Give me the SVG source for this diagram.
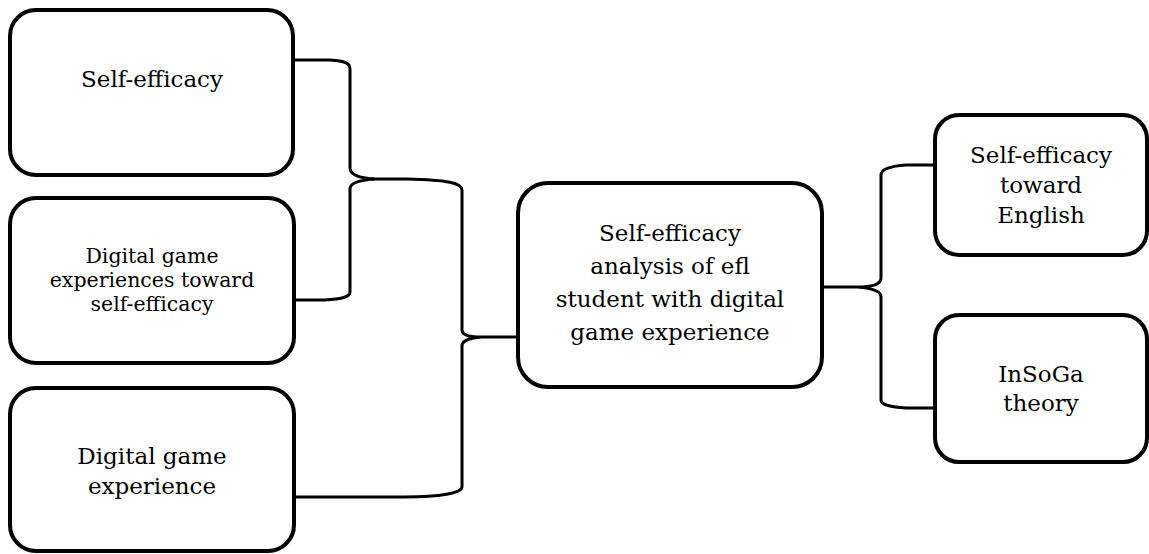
<svg xmlns="http://www.w3.org/2000/svg" width="1149" height="554" viewBox="0 0 1149 554">
<style>
  .box { fill: #ffffff; stroke: #000000; stroke-width: 4; }
  .conn { fill: none; stroke: #000000; stroke-width: 3; }
  .t { font-family: "DejaVu Serif", "Liberation Serif", serif; font-size: 23px; fill: #000000; text-anchor: middle; }
  .s { font-size: 20.5px; }
</style>
<rect width="1149" height="554" fill="#ffffff"/>
<g id="connectors">
  <path class="conn" d="M294,60 L330,60 C345,61 350,63 350,69 L350,168 C350,175 360,178 374,179 C360,180 350,183 350,189 L350,292 C350,297 342,299 325,300 L294,300"/>
  <path class="conn" d="M372,179 L407,179 C448,180 462,183 462,190 L462,330 C462,335 470,337 482,337 L518,337 M482,337 C470,338 462,340 462,346 L462,487 C462,493 440,497 405,497 L294,497"/>
  <path class="conn" d="M822,287 L857,287 C872,287 881,284 881,278 L881,175 C881,169 891,166 906,165 L935,165 M857,287 C872,288 881,291 881,297 L881,400 C881,405 891,407 906,408 L935,408"/>
</g>
<g id="node-self-efficacy">
  <rect class="box" x="10" y="10" width="283" height="165" rx="26"/>
  <text class="t" x="152" y="87">Self-efficacy</text>
</g>
<g id="node-digital-game-experiences">
  <rect class="box" x="10" y="198" width="284" height="165" rx="26"/>
  <text class="t s" x="152" y="263">Digital game</text>
  <text class="t s" x="152" y="287">experiences toward</text>
  <text class="t s" x="152" y="311">self-efficacy</text>
</g>
<g id="node-digital-game-experience">
  <rect class="box" x="10" y="388" width="284" height="163" rx="26"/>
  <text class="t" x="152" y="464">Digital game</text>
  <text class="t" x="152" y="494">experience</text>
</g>
<g id="node-center">
  <rect class="box" x="518" y="183" width="304" height="204" rx="30"/>
  <text class="t" x="670" y="241">Self-efficacy</text>
  <text class="t" x="670" y="274">analysis of efl</text>
  <text class="t" x="670" y="307">student with digital</text>
  <text class="t" x="670" y="340">game experience</text>
</g>
<g id="node-self-efficacy-english">
  <rect class="box" x="935" y="115" width="212" height="140" rx="24"/>
  <text class="t" x="1041" y="163">Self-efficacy</text>
  <text class="t" x="1041" y="193">toward</text>
  <text class="t" x="1041" y="223">English</text>
</g>
<g id="node-insoga">
  <rect class="box" x="935" y="315" width="212" height="147" rx="24"/>
  <text class="t" x="1041" y="382">InSoGa</text>
  <text class="t" x="1041" y="411">theory</text>
</g>
</svg>
